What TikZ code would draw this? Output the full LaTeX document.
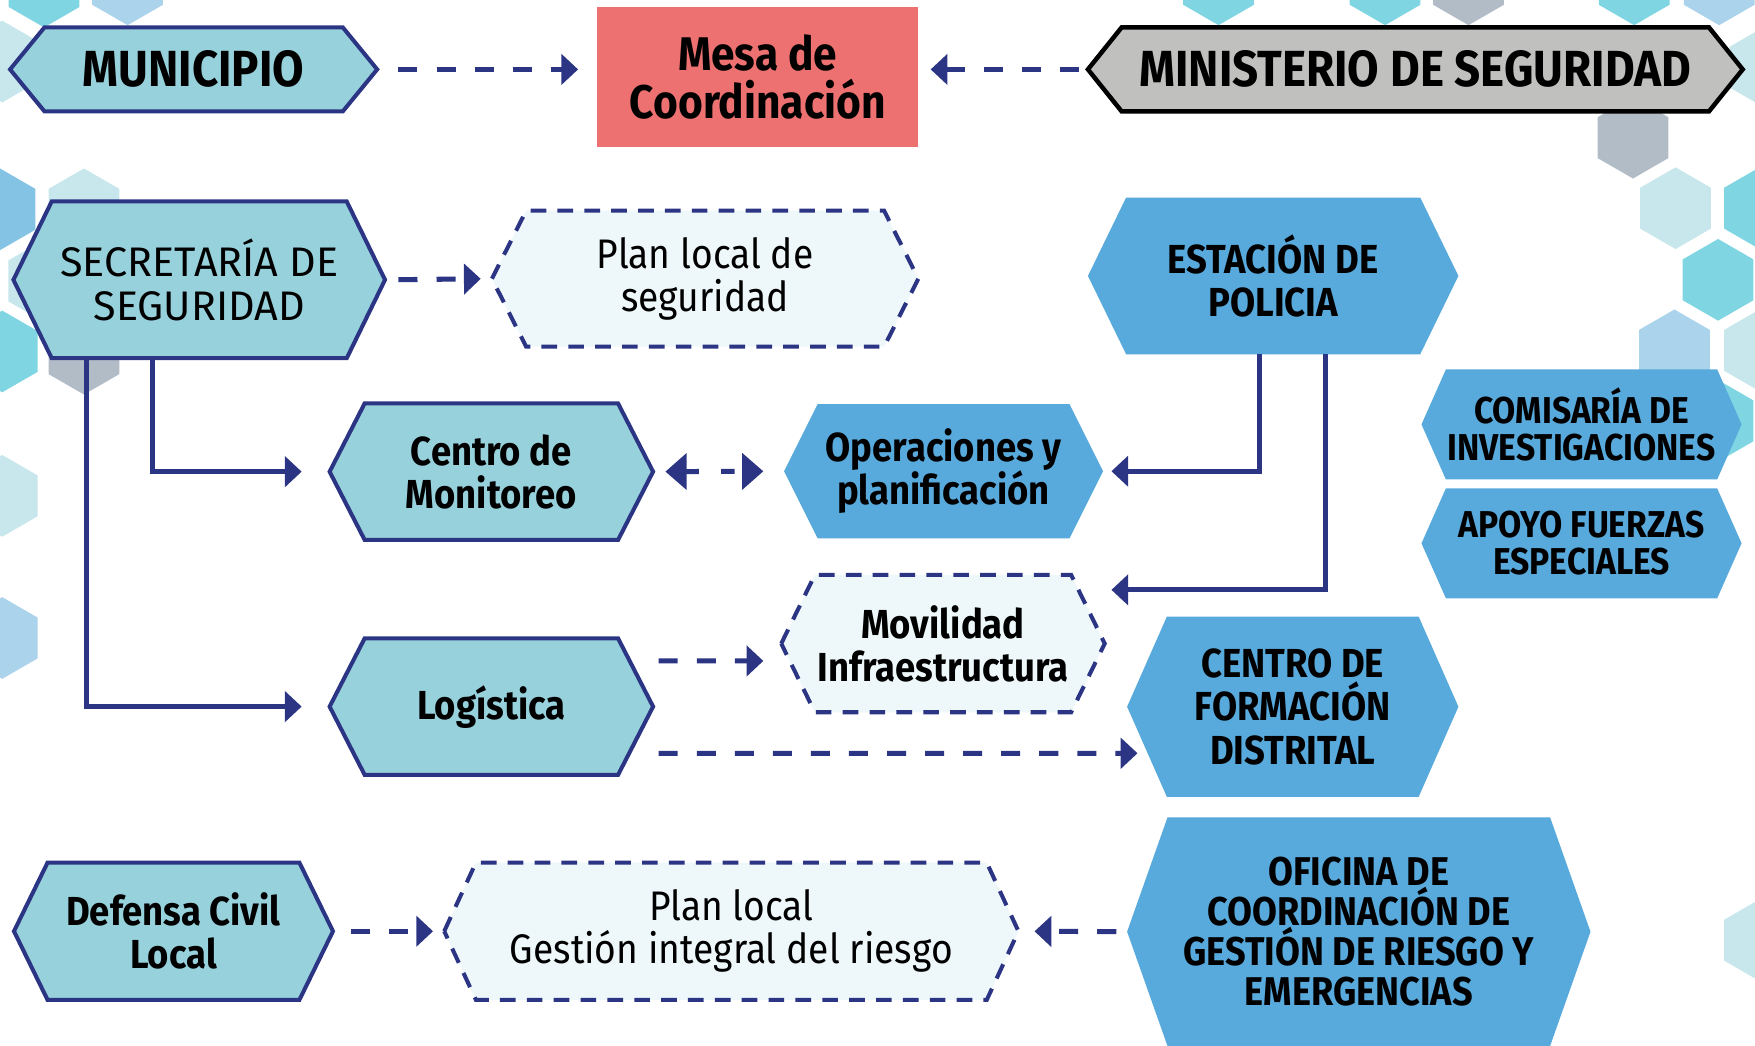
\documentclass[tikz,border=0pt]{standalone}
\usepackage{fontspec}
\setmainfont{Fira Sans}
\newfontfamily\condfont{Fira Sans}[FakeStretch=0.9]
\usetikzlibrary{arrows.meta,positioning,calc,backgrounds}

\definecolor{navy}{HTML}{2B3584}
\definecolor{secteal}{HTML}{96D1DC}
\definecolor{polblue}{HTML}{58A9DC}
\definecolor{mesared}{HTML}{EC7170}
\definecolor{mingray}{HTML}{C0C0BE}
\definecolor{planfill}{HTML}{EEF7FA}
\definecolor{hexturq}{HTML}{7FD6E2}
\definecolor{hexlblue}{HTML}{ABD3EC}
\definecolor{hexpale}{HTML}{C7E7EC}
\definecolor{hexgray}{HTML}{B2BCC7}
\definecolor{hexblue}{HTML}{85C3E4}

% hexagon drawn round a named node: style, node, cut
\newcommand{\hexof}[3]{\path[#1] (#2.west) -- ([xshift=#3]#2.north west) -- ([xshift=-#3]#2.north east) -- (#2.east) -- ([xshift=-#3]#2.south east) -- ([xshift=#3]#2.south west) -- cycle;}

\begin{document}
\begin{tikzpicture}[
    boxnode/.style={inner sep=0pt, outer sep=0pt, align=center, text=black},
    bigtxt/.style={font=\condfont\fontsize{12.9}{13.5}\selectfont\bfseries},
    mesatxt/.style={font=\condfont\fontsize{12}{12.2}\selectfont\bfseries},
    sectxt/.style={font=\fontsize{10.5}{11}\selectfont},
    regtxt/.style={font=\condfont\fontsize{10.5}{11}\selectfont},
    midtxt/.style={font=\condfont\fontsize{10.3}{11}\selectfont\bfseries},
    smalltxt/.style={font=\condfont\fontsize{9.5}{9.4}\selectfont\bfseries},
    ofictxt/.style={font=\condfont\fontsize{10.2}{10.2}\selectfont\bfseries},
    tealhex/.style={fill=secteal, draw=navy, line width=0.036cm},
    bluehex/.style={fill=polblue},
    planhex/.style={fill=planfill, draw=navy, line width=0.036cm, dash pattern=on 0.14cm off 0.1cm},
    minhex/.style={fill=mingray, draw=black, line width=0.04cm},
    >={Triangle[length=0.15cm,width=0.27cm]},
    arr/.style={->, draw=navy, line width=0.045cm},
    dasharr/.style={arr, dash pattern=on 0.17cm off 0.17cm}
]
\useasboundingbox (0,0) rectangle (15.68,9.34);

\node[boxnode, bigtxt, minimum width=3.28cm, minimum height=0.75cm] (muni) at (1.73,8.72) {MUNICIPIO};
\node[boxnode, mesatxt, fill=mesared, minimum width=2.87cm, minimum height=1.25cm] (mesa) at (6.77,8.655) {Mesa de\\Coordinación};
\node[boxnode, bigtxt, minimum width=5.85cm, minimum height=0.75cm] (mini) at (12.645,8.72) {MINISTERIO DE SEGURIDAD};

\node[boxnode, sectxt, minimum width=3.32cm, minimum height=1.40cm] (secre) at (1.78,6.84) {SECRETARÍA DE\\SEGURIDAD};
\node[boxnode, regtxt, minimum width=3.81cm, minimum height=1.215cm] (plan) at (6.30,6.85) {Plan local de\\seguridad};
\node[boxnode, midtxt, minimum width=3.31cm, minimum height=1.40cm] (estac) at (11.375,6.875) {ESTACIÓN DE\\POLICIA};

\node[boxnode, midtxt, minimum width=2.89cm, minimum height=1.22cm] (moni) at (4.39,5.126) {Centro de\\Monitoreo};
\node[boxnode, midtxt, minimum width=2.85cm, minimum height=1.20cm] (opera) at (8.43,5.13) {Operaciones y\\planificación};
\node[boxnode, smalltxt, minimum width=2.86cm, minimum height=0.983cm] (comis) at (14.13,5.548) {COMISARÍA DE\\INVESTIGACIONES};
\node[boxnode, smalltxt, minimum width=2.86cm, minimum height=0.982cm] (apoyo) at (14.13,4.486) {APOYO FUERZAS\\ESPECIALES};

\node[boxnode, midtxt, minimum width=2.89cm, minimum height=1.227cm] (movil) at (8.425,3.59) {Movilidad\\Infraestructura};
\node[boxnode, midtxt, minimum width=2.89cm, minimum height=1.22cm] (logis) at (4.39,3.027) {Logística};
\node[boxnode, midtxt, minimum width=2.96cm, minimum height=1.61cm] (cfd) at (11.55,3.026) {CENTRO DE\\FORMACIÓN\\DISTRITAL};

\node[boxnode, midtxt, minimum width=2.85cm, minimum height=1.227cm] (defen) at (1.55,1.02) {Defensa Civil\\Local};
\node[boxnode, regtxt, minimum width=5.13cm, minimum height=1.227cm] (plan2) at (6.534,1.02) {Plan local\\Gestión integral del riesgo};
\node[boxnode, ofictxt, minimum width=4.14cm, minimum height=2.044cm] (ofic) at (12.14,1.016) {OFICINA DE\\COORDINACIÓN DE\\GESTIÓN DE RIESGO Y\\EMERGENCIAS};

\begin{scope}[on background layer]
% honeycomb in the back
\foreach \hx/\hy/\hc in {0.394/9.46/hexturq, 1.14/9.48/hexlblue, 10.887/9.48/hexturq, 12.375/9.48/hexturq,
    13.12/9.48/hexgray, 14.60/9.48/hexturq, 15.36/9.48/hexlblue, 0.02/8.79/hexpale, 0.0/7.47/hexblue,
    0.75/7.47/hexpale, 0.39/6.83/hexpale, 0.02/6.20/hexturq, 0.75/6.18/hexgray, 0.02/4.91/hexpale,
    0.02/3.64/hexlblue, 15.77/8.74/hexpale, 14.59/8.11/hexgray, 14.97/7.48/hexpale, 15.72/7.48/hexturq,
    15.35/6.84/hexturq, 14.96/6.21/hexlblue, 15.72/6.21/hexpale, 15.35/5.58/hexturq, 15.72/0.94/hexpale}
    \fill[\hc] (\hx,\hy) ++(90:0.365) -- ++(210:0.365) -- ++(270:0.365) -- ++(330:0.365) -- ++(30:0.365) -- ++(90:0.365) -- cycle;
\hexof{tealhex}{muni}{0.307cm}
\hexof{minhex}{mini}{0.301cm}
\hexof{tealhex}{secre}{0.342cm}
\hexof{planhex}{plan}{0.306cm}
\hexof{bluehex}{estac}{0.341cm}
\hexof{tealhex}{moni}{0.313cm}
\hexof{bluehex}{opera}{0.30cm}
\hexof{bluehex}{comis}{0.218cm}
\hexof{bluehex}{apoyo}{0.218cm}
\hexof{planhex}{movil}{0.30cm}
\hexof{tealhex}{logis}{0.313cm}
\hexof{bluehex}{cfd}{0.355cm}
\hexof{tealhex}{defen}{0.30cm}
\hexof{planhex}{plan2}{0.283cm}
\hexof{bluehex}{ofic}{0.361cm}
\end{scope}

\draw[dasharr, shorten <=0.19cm, shorten >=0.17cm] (muni.east) -- (muni.east -| mesa.west);
\draw[dasharr, shorten <=0.08cm, shorten >=0.11cm] (mini.west) -- (mini.west -| mesa.east);
\draw[dasharr, shorten <=0.12cm, shorten >=0.10cm] (secre.east) -- (plan.west);
\draw[arr, shorten >=0.25cm] ([xshift=-0.42cm]secre.south) |- (moni.west);
\draw[arr, shorten >=0.25cm] ([xshift=-1.01cm]secre.south) |- (logis.west);
\draw[arr, {Triangle[length=0.19cm,width=0.32cm]}-{Triangle[length=0.19cm,width=0.32cm]}, dash pattern=on 0.12cm off 0.2cm, shorten <=0.11cm, shorten >=0.185cm] (moni.east) -- (opera.west);
\draw[arr, shorten >=0.075cm] ([xshift=-0.12cm]estac.south) |- (opera.east);
\draw[arr, shorten >=0.06cm] ([xshift=0.47cm]estac.south) |- ([yshift=0.48cm]movil.east);
\draw[dasharr] ($(logis.east)+(0.05,0.408)$) -- ($(movil.west)+(-0.16,-0.155)$);
\draw[dasharr] ($(logis.east)+(0.05,-0.417)$) -- ($(cfd.west)+(0.093,-0.416)$);
\draw[dasharr, shorten <=0.157cm, shorten >=0.10cm] (defen.east) -- (plan2.west);
\draw[dasharr, shorten <=0.097cm, shorten >=0.144cm] (ofic.west) -- (plan2.east);
\end{tikzpicture}
\end{document}
